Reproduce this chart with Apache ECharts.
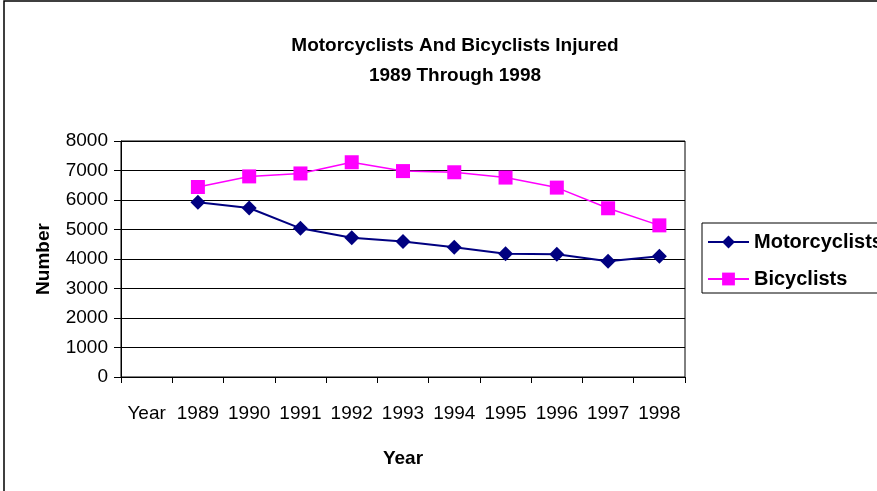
<!DOCTYPE html>
<html>
<head>
<meta charset="utf-8">
<script src="https://cdn.jsdelivr.net/npm/echarts@6/dist/echarts.min.js"></script>
<style>
  html, body { margin: 0; padding: 0; background: #fff; }
  #chart { width: 877px; height: 491px; }
</style>
</head>
<body>
<div id="chart"></div>
<script>
const categories = ["Year", "1989", "1990", "1991", "1992", "1993", "1994", "1995", "1996", "1997", "1998"];
const motorcyclists = [5920, 5730, 5040, 4720, 4590, 4400, 4180, 4160, 3920, 4090];
const bicyclists = [6440, 6800, 6900, 7280, 6980, 6940, 6760, 6420, 5720, 5140];
const yTicks = [0, 1000, 2000, 3000, 4000, 5000, 6000, 7000, 8000];

const font = "Liberation Sans, Arial, sans-serif";

const chart = echarts.init(document.getElementById("chart"));

const option = {
    animation: false,
    backgroundColor: "#fff",
    title: {
        text: "Motorcyclists And Bicyclists Injured\n1989 Through 1998",
        left: 450,
        textAlign: "center",
        top: 26,
        textStyle: {
            fontFamily: font,
            fontSize: 19,
            fontWeight: "bold",
            color: "#000",
            lineHeight: 30,
        },
    },
    legend: {
        orient: "vertical",
        left: 702,
        top: 223,
        padding: [9, 40, 4, 5],
        borderColor: "#000",
        borderWidth: 1,
        itemWidth: 41,
        itemHeight: 16,
        itemGap: 17,
        textStyle: {fontFamily: font, fontSize: 20, fontWeight: "bold", color: "#000"},
        data: ["Motorcyclists", "Bicyclists"],
    },
    grid: {
        left: 121,
        right: 192,
        top: 141,
        bottom: 114,
        show: true,
        borderColor: "#000",
        borderWidth: 1,
    },
    xAxis: {
        type: "category",
        data: categories,
        boundaryGap: true,
        name: "Year",
        nameLocation: "middle",
        nameGap: 72,
        nameTextStyle: {fontFamily: font, fontSize: 19, fontWeight: "bold", color: "#000"},
        axisLine: {lineStyle: {color: "#000", width: 1}},
        axisTick: {show: true, inside: false, length: 6, interval: 0, lineStyle: {color: "#000"}},
        axisLabel: {fontFamily: font, fontSize: 19, color: "#000", margin: 27, interval: 0},
        splitLine: {show: false},
    },
    yAxis: {
        type: "value",
        min: yTicks[0],
        max: yTicks[yTicks.length - 1],
        interval: 1000,
        name: "Number",
        nameLocation: "middle",
        nameGap: 68,
        nameRotate: 90,
        nameTextStyle: {fontFamily: font, fontSize: 19, fontWeight: "bold", color: "#000"},
        axisLine: {show: true, lineStyle: {color: "#000", width: 1}},
        axisTick: {show: true, length: 7, lineStyle: {color: "#000"}},
        axisLabel: {fontFamily: font, fontSize: 19, color: "#000", margin: 13, formatter: (v) => String(v)},
        splitLine: {show: true, lineStyle: {color: "#000", width: 1}},
    },
    series: [
        {
            name: "Motorcyclists",
            type: "line",
            data: ["-"].concat(motorcyclists),
            symbol: "diamond",
            symbolSize: 15,
            color: "#000080",
            itemStyle: {color: "#000080"},
            lineStyle: {color: "#000080", width: 2},
        },
        {
            name: "Bicyclists",
            type: "line",
            data: ["-"].concat(bicyclists),
            symbol: "rect",
            symbolSize: 14,
            color: "#ff00ff",
            itemStyle: {color: "#ff00ff"},
            lineStyle: {color: "#ff00ff", width: 1.5},
        },
    ],
    graphic: [
        {
            type: "rect",
            shape: {x: 4, y: 1, width: 900, height: 520},
            style: {fill: null, stroke: "#000", lineWidth: 1.5},
            silent: true,
        },
    ],
};

chart.setOption(option);
</script>
</body>
</html>
